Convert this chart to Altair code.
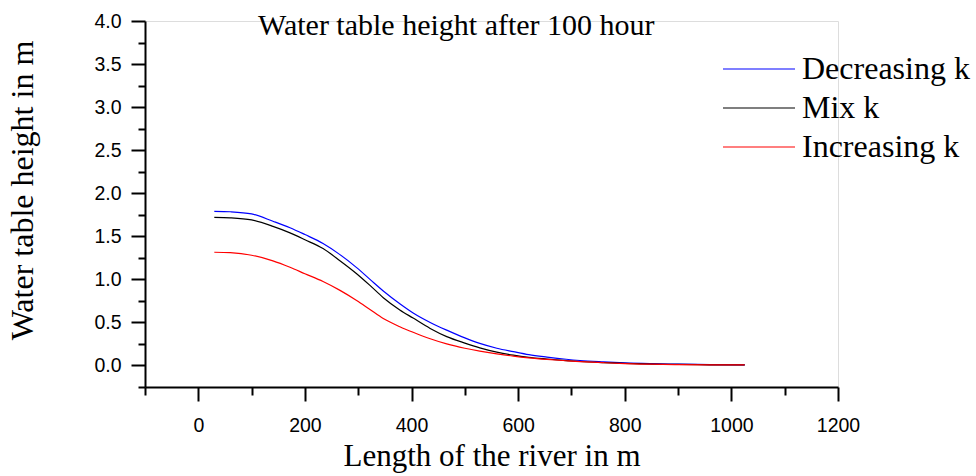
import altair as alt
import pandas as pd

# ---- data ----
x_m = [30, 60, 100, 140, 172, 200, 234, 265, 297, 322, 347, 378, 403, 435, 466,
       500, 528, 560, 591, 620, 654, 690, 716, 760, 800, 850, 900, 960, 1025]
decreasing_k = [1.79, 1.785, 1.76, 1.675, 1.60, 1.52, 1.416, 1.29, 1.136, 1.00, 0.865,
                0.717, 0.61, 0.50, 0.41, 0.32, 0.256, 0.20, 0.16, 0.125, 0.097, 0.072,
                0.058, 0.042, 0.030, 0.021, 0.015, 0.010, 0.007]
mix_k = [1.72, 1.715, 1.69, 1.615, 1.54, 1.46, 1.357, 1.22, 1.066, 0.93, 0.787,
         0.645, 0.55, 0.43, 0.335, 0.26, 0.205, 0.155, 0.12, 0.095, 0.075, 0.057,
         0.046, 0.033, 0.024, 0.016, 0.012, 0.008, 0.006]
increasing_k = [1.315, 1.31, 1.28, 1.215, 1.14, 1.065, 0.975, 0.875, 0.755, 0.65, 0.545,
                0.45, 0.385, 0.31, 0.25, 0.20, 0.167, 0.135, 0.108, 0.088, 0.07, 0.055,
                0.045, 0.032, 0.022, 0.015, 0.010, 0.008, 0.006]
series = ["Decreasing k", "Mix k", "Increasing k"]
colors = ["#0000ff", "#000000", "#ff0000"]

x_ticks = [-100, 0, 100, 200, 300, 400, 500, 600, 700, 800, 900, 1000, 1100, 1200]
y_ticks = [-0.25, 0.0, 0.25, 0.5, 0.75, 1.0, 1.25, 1.5, 1.75, 2.0, 2.25, 2.5, 2.75,
           3.0, 3.25, 3.5, 3.75, 4.0]

rows = []
for name, vals in zip(series, [decreasing_k, mix_k, increasing_k]):
    for xv, yv in zip(x_m, vals):
        rows.append({"x": xv, "h": yv, "series": name})
df = pd.DataFrame(rows)

serif = "Liberation Serif"
sans = "Liberation Sans"

x_axis = alt.Axis(
    values=x_ticks,
    format="d",
    title="Length of the river in m",
    titleFont=serif, titleFontSize=31, titleFontWeight="normal", titleColor="black",
    titlePadding=7,
    labelExpr="datum.value % 200 === 0 ? datum.label : ''",
    labelFont=sans, labelFontSize=19.5, labelColor="black", labelPadding=15,
    labelFlush=False,
    grid=False, domainColor="black", domainWidth=2, tickColor="black", tickWidth=2,
    tickSize={"condition": {"test": "datum.value % 200 === 0", "value": 14}, "value": 8},
)
y_axis = alt.Axis(
    values=y_ticks,
    format=".1f",
    title="Water table height in m",
    titleFont=serif, titleFontSize=32, titleFontWeight="normal", titleColor="black",
    titlePadding=54, titleY=169,
    labelExpr="round(datum.value * 4) % 2 === 0 ? datum.label : ''",
    labelFont=sans, labelFontSize=19.5, labelColor="black", labelPadding=10,
    labelFlush=False,
    grid=False, domainColor="black", domainWidth=2, tickColor="black", tickWidth=2,
    tickSize={"condition": {"test": "round(datum.value * 4) % 2 === 0", "value": 14}, "value": 7},
)

chart = alt.Chart(df).mark_line(strokeWidth=1.2, interpolate="monotone").encode(
    x=alt.X("x:Q", scale=alt.Scale(domain=[-100, 1200], nice=False, zero=False), axis=x_axis),
    y=alt.Y("h:Q", scale=alt.Scale(domain=[-0.25, 4.0], nice=False, zero=False), axis=y_axis),
    color=alt.Color(
        "series:N",
        sort=series,
        scale=alt.Scale(domain=series, range=colors),
        legend=alt.Legend(
            title=None, orient="none", legendX=598, legendY=32,
            symbolType="M-4,0H4", symbolSize=324, symbolStrokeWidth=1.2,
            labelFont=serif, labelFontSize=32, labelColor="black", labelOffset=27,
            labelLimit=0, rowPadding=7,
        ),
    ),
).properties(
    width=693, height=366,
    title=alt.TitleParams(
        text="Water table height after 100 hour",
        font=serif, fontSize=30, fontWeight="normal", color="black",
        anchor="start", frame="group", dx=113, dy=58, baseline="alphabetic",
    ),
    autosize=alt.AutoSizeParams(type="none"),
    padding={"left": 145, "top": 21, "right": 138, "bottom": 89},
).configure_view(stroke=None).configure(background="white")

chart.save("out.html", embed_options={"renderer": "svg", "actions": False})
